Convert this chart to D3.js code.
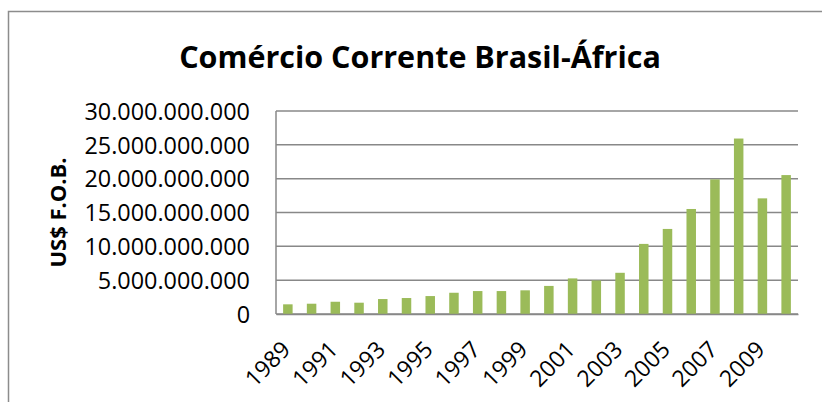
<!DOCTYPE html>
<html lang="pt">
<head>
    <meta charset="UTF-8">
    <title>Comércio Corrente Brasil-África</title>
    <script src="https://d3js.org/d3.v7.min.js"></script>
    <style>
        body { margin: 0; background: #fff; }
        text { font-family: "Open Sans", sans-serif; fill: #000; }
    </style>
</head>
<body>
    <div class="canvas"></div>
    <script>
        // dados
        const anos = d3.range(1989, 2011).map(String);
        const valores = [
            1.43e9, 1.52e9, 1.81e9, 1.67e9, 2.21e9, 2.36e9, 2.65e9, 3.14e9, 3.39e9, 3.39e9, 3.5e9,
            4.15e9, 5.26e9, 4.96e9, 6.09e9, 10.36e9, 12.57e9, 15.52e9, 19.89e9, 25.93e9, 17.09e9, 20.53e9
        ];
        const yTicks = [0, 5e9, 10e9, 15e9, 20e9, 25e9, 30e9];
        const titulo = 'Comércio Corrente Brasil-África';
        const tituloY = 'US$ F.O.B.';

        const width = 822;
        const height = 402;
        // área do gráfico
        let [mt, mr, mb, ml] = [111, 24, 88, 276];
        const graphWidth = width - ml - mr;
        const graphHeight = height - mt - mb;

        const svg = d3.select('.canvas')
            .append('svg')
            .attr('width', width)
            .attr('height', height);

        // borda externa (cortada à direita e embaixo)
        svg.append('rect')
            .attr('x', 8.5).attr('y', 11.5)
            .attr('width', 900).attr('height', 500)
            .attr('fill', 'none')
            .attr('stroke', '#8c8c8c')
            .attr('stroke-width', 1.5);

        svg.append('text')
            .attr('x', 420).attr('y', 68)
            .attr('text-anchor', 'middle')
            .style('font-size', '30.5px')
            .style('font-weight', 'bold')
            .text(titulo);

        const graph = svg.append('g')
            .attr('transform', `translate(${ml}, ${mt})`);

        const x = d3.scaleBand()
            .domain(anos)
            .range([0, graphWidth])
            .paddingInner(0.6)
            .paddingOuter(0.3);

        const y = d3.scaleLinear()
            .domain([0, 30e9])
            .range([graphHeight, 0]);

        const br = d3.formatLocale({ decimal: ',', thousands: '.', grouping: [3], currency: ['', ''] });
        const fmt = br.format(',');

        // linhas de grade
        graph.selectAll('line.grid')
            .data(yTicks)
            .enter()
            .append('line')
            .attr('class', 'grid')
            .attr('x1', 0).attr('x2', graphWidth)
            .attr('y1', d => y(d)).attr('y2', d => y(d))
            .attr('stroke', '#888')
            .attr('stroke-width', 1.5);

        graph.append('line')
            .attr('x1', 0).attr('x2', 0)
            .attr('y1', 0).attr('y2', graphHeight)
            .attr('stroke', '#888')
            .attr('stroke-width', 1.5);

        graph.selectAll('rect.bar')
            .data(valores)
            .enter()
            .append('rect')
            .attr('class', 'bar')
            .attr('x', (d, i) => x(anos[i]))
            .attr('y', d => y(d))
            .attr('width', x.bandwidth())
            .attr('height', d => graphHeight - y(d))
            .attr('fill', '#9bbb59');

        const yAxis = d3.axisLeft(y)
            .tickValues(yTicks)
            .tickFormat(fmt)
            .tickSize(0)
            .tickPadding(26);
        const yAxisG = graph.append('g').call(yAxis);
        yAxisG.select('.domain').remove();
        yAxisG.selectAll('text')
            .style('font-size', '23.4px')
            .attr('dy', '0.35em');

        const xAxis = d3.axisBottom(x)
            .tickValues(anos.filter((d, i) => i % 2 === 0))
            .tickSize(0)
            .tickPadding(0);
        const xAxisG = graph.append('g')
            .attr('transform', `translate(0, ${graphHeight})`)
            .call(xAxis);
        xAxisG.select('.domain')
            .attr('stroke', '#888')
            .attr('stroke-width', 1.5);
        xAxisG.selectAll('text')
            .style('font-size', '23px')
            .attr('text-anchor', 'end')
            .attr('y', 0)
            .attr('dy', 0)
            .attr('transform', 'translate(4, 37) rotate(-45)');

        svg.append('text')
            .attr('transform', `translate(66, ${mt + graphHeight / 2}) rotate(-90)`)
            .attr('text-anchor', 'middle')
            .style('font-size', '22px')
            .style('font-weight', 'bold')
            .text(tituloY);
    </script>
</body>
</html>
